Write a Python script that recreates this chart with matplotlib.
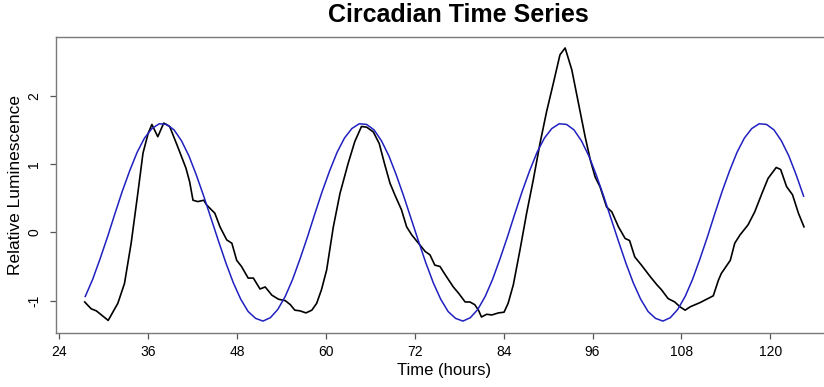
import numpy as np
import matplotlib
matplotlib.use("Agg")
import matplotlib.pyplot as plt

# Observed luminescence (black)
obs_time = [27.43, 28.3, 29.0, 30.6, 31.9, 32.8, 33.7, 34.6, 35.3, 36.0, 36.5, 37.3, 38.1, 38.9,
            40.0, 41.1, 41.6, 42.05, 42.7, 43.5, 43.9, 45.0, 45.7, 46.6, 47.3, 47.95, 48.6, 49.5,
            50.2, 51.1, 51.8, 52.7, 53.6, 54.5, 55.2, 55.8, 56.5, 57.3, 58.1, 58.75, 59.4, 60.1,
            61.0, 61.9, 63.0, 63.9, 64.8, 65.5, 66.4, 67.2, 67.9, 68.65, 69.3, 70.2, 70.9, 71.6,
            72.5, 73.4, 74.05, 74.7, 75.4, 76.1, 77.2, 77.9, 78.8, 79.45, 80.1, 80.6, 81.0, 81.7,
            82.4, 83.3, 84.05, 84.6, 85.3, 86.2, 87.1, 88.0, 88.9, 89.8, 90.7, 91.6, 92.3, 93.2,
            94.1, 95.0, 95.7, 96.35, 97.0, 97.9, 98.6, 99.5, 100.4, 101.0, 101.7, 102.6, 103.8,
            104.7, 105.3, 106.2, 107.1, 107.8, 108.5, 109.2, 110.5, 112.3, 113.0, 113.4, 114.6,
            115.2, 115.9, 117.0, 117.9, 118.8, 119.7, 120.8, 121.4, 122.2, 123.0, 123.8, 124.55]
obs_value = [-1.02, -1.12, -1.15, -1.29, -1.04, -0.75, -0.16, 0.57, 1.16, 1.45, 1.58, 1.40, 1.60, 1.55,
             1.25, 0.94, 0.74, 0.47, 0.45, 0.47, 0.40, 0.28, 0.08, -0.11, -0.16, -0.41, -0.50, -0.67,
             -0.67, -0.83, -0.80, -0.92, -0.98, -1.00, -1.06, -1.14, -1.15, -1.18, -1.14, -1.04, -0.84, -0.55,
             0.08, 0.57, 1.01, 1.33, 1.55, 1.54, 1.47, 1.30, 1.01, 0.72, 0.55, 0.33, 0.08, -0.04,
             -0.16, -0.28, -0.33, -0.48, -0.50, -0.62, -0.80, -0.89, -1.02, -1.02, -1.06, -1.14, -1.24, -1.20,
             -1.21, -1.18, -1.17, -1.04, -0.77, -0.26, 0.28, 0.77, 1.30, 1.77, 2.18, 2.60, 2.70, 2.38,
             1.89, 1.40, 1.06, 0.81, 0.67, 0.37, 0.30, 0.08, -0.09, -0.12, -0.36, -0.48, -0.65,
             -0.77, -0.84, -0.97, -1.02, -1.09, -1.14, -1.09, -1.03, -0.93, -0.70, -0.60, -0.41,
             -0.16, -0.04, 0.11, 0.30, 0.55, 0.79, 0.95, 0.92, 0.67, 0.55, 0.28, 0.08]

# Fitted curve (blue), read hourly from 27.5 to 124.5
fit_time = np.arange(27.5, 124.51, 1.0)
fit_value = [-0.94, -0.69, -0.39, -0.07, 0.27, 0.60, 0.90, 1.17, 1.38, 1.52, 1.59, 1.58, 1.50, 1.34,
             1.12, 0.84, 0.53, 0.20, -0.13, -0.45, -0.74, -0.98, -1.16, -1.26, -1.30, -1.25, -1.13,
             -0.94, -0.69, -0.39, -0.07, 0.27, 0.60, 0.90, 1.17, 1.38, 1.52, 1.59, 1.58, 1.50, 1.34,
             1.12, 0.84, 0.53, 0.20, -0.13, -0.45, -0.74, -0.98, -1.16, -1.26, -1.30, -1.25, -1.13,
             -0.94, -0.69, -0.39, -0.07, 0.27, 0.60, 0.90, 1.17, 1.38, 1.52, 1.59, 1.58, 1.50, 1.34,
             1.12, 0.84, 0.53, 0.20, -0.13, -0.45, -0.74, -0.98, -1.16, -1.26, -1.30, -1.25, -1.13,
             -0.94, -0.69, -0.39, -0.07, 0.27, 0.60, 0.90, 1.17, 1.38, 1.52, 1.59, 1.58, 1.50, 1.34,
             1.12, 0.84, 0.53]

x_ticks = [24, 36, 48, 60, 72, 84, 96, 108, 120]
y_ticks = [-1, 0, 1, 2]

plt.rcParams['font.family'] = ['Liberation Sans', 'DejaVu Sans']

fig = plt.figure(figsize=(8.24, 3.87), dpi=100)
W, H = 824, 387
left_px, right_px, top_px, bot_px = 55.6, 832.5, 36.7, 332.7
ax = fig.add_axes([left_px / W, 1 - bot_px / H, (right_px - left_px) / W, (bot_px - top_px) / H])

ax.plot(obs_time, obs_value, color='black', lw=1.2)
ax.plot(fit_time, fit_value, color='#2020c0', lw=1.1)

ax.set_xlim(23.5, 128.4)
ax.set_ylim(-1.47, 2.865)
ax.set_xticks(x_ticks)
ax.set_yticks(y_ticks)
ax.set_xticklabels([str(t) for t in x_ticks])
ax.set_yticklabels([str(t) for t in y_ticks], rotation=90, va='center')

box_col = '#7a7a7a'
for s in ax.spines.values():
    s.set_color(box_col)
    s.set_linewidth(1.0)
ax.tick_params(axis='both', direction='out', length=4.5, width=0.9, color='#555555',
               labelsize=10, labelcolor='black')
ax.tick_params(axis='x', pad=4)
ax.tick_params(axis='y', pad=6)

ax.set_xlabel('Time (hours)', fontsize=12, labelpad=3)
ax.set_ylabel('Relative Luminescence', fontsize=12.5, labelpad=3)
fig.text(458 / W, 1 - 15 / H, 'Circadian Time Series',
         fontsize=18, fontweight='bold', ha='center', va='center')

fig.savefig('out.png', dpi=100)
